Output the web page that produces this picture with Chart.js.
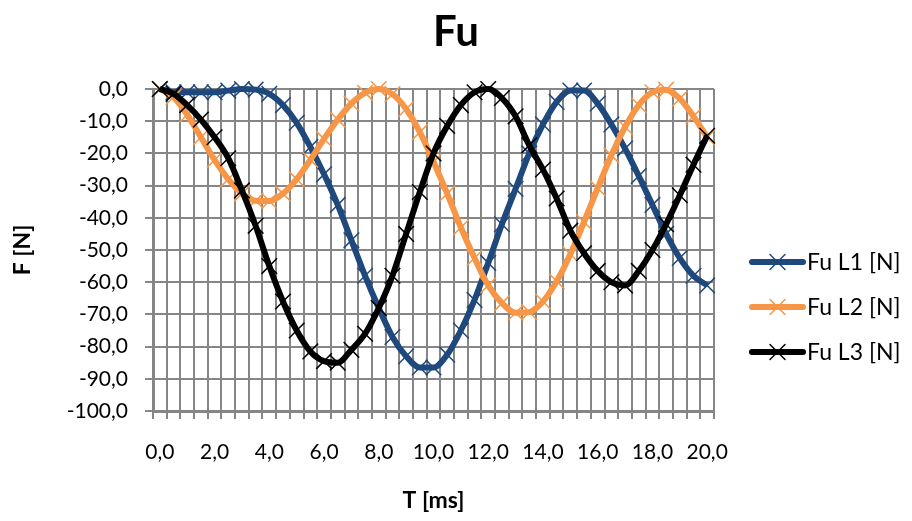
<!DOCTYPE html>
<html>
<head>
<meta charset="utf-8">
<title>Fu</title>
<script src="https://cdn.jsdelivr.net/npm/chart.js@4.4.0/dist/chart.umd.min.js"></script>
<style>
    html, body { margin: 0; padding: 0; background: #fff; }
    #wrap { position: relative; width: 912px; height: 521px; }
</style>
</head>
<body>
<div id="wrap"><canvas id="fuChart"></canvas></div>
<script>
// time in ms, one point every 0,5 ms
const times = [0, 0.5, 1, 1.5, 2, 2.5, 3, 3.5, 4, 4.5, 5, 5.5, 6, 6.5, 7, 7.5, 8, 8.5, 9, 9.5,
    10, 10.5, 11, 11.5, 12, 12.5, 13, 13.5, 14, 14.5, 15, 15.5, 16, 16.5, 17, 17.5, 18, 18.5, 19, 19.5, 20];

const fuL1 = [0, -1, -1, -1, -1, -0.5, 0, -0.2, -1.5, -5, -10.5, -18, -26.5, -36, -47, -58, -68, -77, -83, -86.5,
    -86.5, -82.5, -75, -65.5, -54, -42, -31, -20, -11, -4, -0.5, -0.5, -4.5, -11, -18.5, -27, -36, -45, -52.5, -58, -61];

const fuL2 = [0, -2.5, -8, -15, -22, -28, -32.5, -34.7, -34.8, -32.5, -28, -22, -15.5, -9.5, -4.5, -1.2, 0, -1.6, -6.2, -13.4,
    -22.6, -32.5, -43, -52.5, -61, -66.5, -69.5, -69.3, -66, -59.7, -51.3, -41.3, -30.8, -20.6, -11.8, -5, -1, -0.2, -3, -8.5, -15];

const fuL3 = [0, -1.5, -5, -9.5, -15, -21.5, -31.5, -42.5, -55, -66, -75, -81.5, -84.5, -85, -81, -76, -68, -58, -45, -32,
    -20, -11.5, -5, -1, 0, -2.8, -8.5, -17.5, -25, -34, -44, -51, -56.5, -60, -61, -56.5, -50, -42, -33, -23.5, -14.5];

const seriesNames = ['Fu L1 [N]', 'Fu L2 [N]', 'Fu L3 [N]'];
const seriesColors = ['#1F497D', '#F79646', '#000000'];
const chartTitle = 'Fu';

const yMin = -100;
const yMax = 0;
const yStep = 10;
const xLabelEvery = 4;

const fmt = v => v.toFixed(1).replace('.', ',');
const fontFamily = 'Lato, "Open Sans", sans-serif';
const gridGrey = '#868686';

// title centred on the whole canvas + excel style legend (line with a cross) right of the plot
const sideLegend = {
    id: 'sideLegend',
    afterDraw(chart) {
        const { ctx, chartArea, width } = chart;
        ctx.save();

        ctx.fillStyle = '#000';
        ctx.font = 'bold 42px ' + fontFamily;
        ctx.textAlign = 'center';
        ctx.textBaseline = 'middle';
        ctx.fillText(chartTitle, width / 2, 32);

        const x0 = chartArea.right + 38;
        const x1 = x0 + 51;
        seriesNames.forEach((name, i) => {
            const y = chartArea.top + 173 + i * 45;
            ctx.strokeStyle = seriesColors[i];
            ctx.lineCap = 'round';
            ctx.lineWidth = 6;
            ctx.beginPath();
            ctx.moveTo(x0, y);
            ctx.lineTo(x1, y);
            ctx.stroke();

            const cx = (x0 + x1) / 2;
            const r = 7.5;
            ctx.lineWidth = 1.5;
            ctx.beginPath();
            ctx.moveTo(cx - r, y - r);
            ctx.lineTo(cx + r, y + r);
            ctx.moveTo(cx - r, y + r);
            ctx.lineTo(cx + r, y - r);
            ctx.stroke();

            ctx.fillStyle = '#000';
            ctx.font = '23px ' + fontFamily;
            ctx.textBaseline = 'middle';
            ctx.textAlign = 'left';
            ctx.fillText(name, x1 + 4, y + 1);
        });
        ctx.restore();
    }
};

const seriesData = [fuL1, fuL2, fuL3];

const ctx = document.getElementById('fuChart');

const fuChart = new Chart(ctx, {
    type: 'line',
    data: {
        labels: times.map(fmt),
        datasets: seriesData.map((values, i) => ({
            label: seriesNames[i],
            data: values,
            borderColor: seriesColors[i],
            backgroundColor: seriesColors[i],
            borderWidth: 6,
            cubicInterpolationMode: 'monotone',
            pointStyle: 'crossRot',
            pointRadius: 11,
            pointBorderWidth: 1.5,
            pointBorderColor: seriesColors[i],
            fill: false,
            clip: false,
            order: seriesData.length - i
        }))
    },
    options: {
        responsive: true,
        maintainAspectRatio: false,
        animation: false,
        events: [],
        layout: {
            padding: { left: 0, right: 198, top: 89, bottom: 0 }
        },
        plugins: {
            legend: { display: false },
            tooltip: { enabled: false },
            title: { display: false }
        },
        scales: {
            x: {
                type: 'category',
                offset: true,
                afterFit: scale => { scale.height = 110; },
                grid: {
                    offset: true,
                    color: gridGrey,
                    lineWidth: 2,
                    tickLength: 8,
                    tickColor: gridGrey
                },
                border: { color: gridGrey, width: 3 },
                ticks: {
                    autoSkip: false,
                    maxRotation: 0,
                    minRotation: 0,
                    padding: 21,
                    color: '#000',
                    font: { family: fontFamily, size: 21 },
                    callback: (val, idx) => idx % xLabelEvery === 0 ? fmt(times[idx]) : ''
                },
                title: {
                    display: true,
                    text: 'T [ms]',
                    color: '#000',
                    font: { family: fontFamily, size: 23, weight: 'bold' },
                    padding: { top: 0, bottom: 7 }
                }
            },
            y: {
                min: yMin,
                max: yMax,
                afterFit: scale => { scale.width = 153; },
                grid: {
                    color: gridGrey,
                    lineWidth: 2,
                    tickLength: 8,
                    tickColor: gridGrey
                },
                border: { color: gridGrey, width: 3 },
                ticks: {
                    stepSize: yStep,
                    padding: 17,
                    color: '#000',
                    font: { family: fontFamily, size: 21 },
                    callback: v => fmt(v)
                },
                title: {
                    display: true,
                    text: 'F [N]',
                    color: '#000',
                    font: { family: fontFamily, size: 23, weight: 'bold' },
                    padding: { top: 9, bottom: 0 }
                }
            }
        }
    },
    plugins: [sideLegend]
});
</script>
</body>
</html>
